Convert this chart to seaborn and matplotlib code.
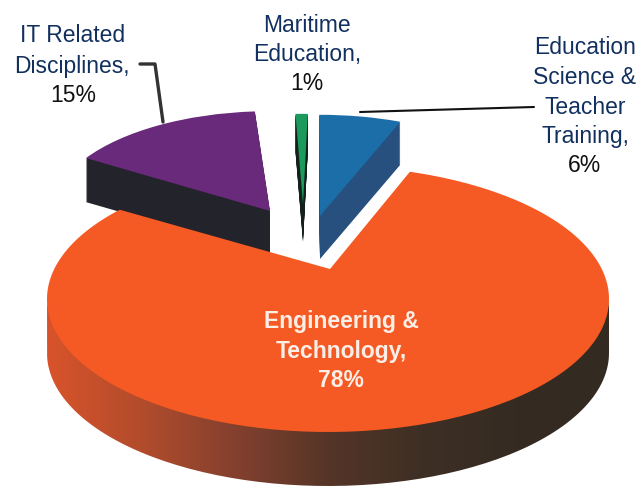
import numpy as np
import seaborn as sns
import matplotlib
matplotlib.use("Agg")
import matplotlib.pyplot as plt
from matplotlib.path import Path

# ---------------------- data ----------------------
categories = ["Engineering & Technology", "IT Related Disciplines", "Maritime Education", "Education Science & Teacher Training"]
shares = [78, 15, 1, 6]

# ---------------------- style ----------------------
sns.set_theme(style="white")
plt.rcParams['font.family'] = ['Liberation Sans', 'DejaVu Sans']

W, H = 644, 489
SQUASH = 0.46   # tilt of the fake 3d pie
NAVY = "#12305f"

def py(y):
    # picture row -> data y
    return (H - y) / SQUASH

fig = plt.figure(figsize=(W / 100, H / 100), dpi=100)
ax = fig.add_axes([0, 0, 1, 1])

def draw_slice(value, start, x, y, radius, top_col, side_col, depth, z):
    # one exploded slice: stacked copies for the side, then the top face
    for d in range(depth, 0, -1):
        ax.pie([value, 100 - value], startangle=start, center=(x, py(y + d)), radius=radius,
               colors=[side_col, "none"], wedgeprops={"linewidth": 0, "zorder": z})
    w, _ = ax.pie([value, 100 - value], startangle=start, center=(x, py(y)), radius=radius,
                  colors=[top_col, "none"], wedgeprops={"linewidth": 0, "zorder": z + 0.5})
    return w

# slices at the back
draw_slice(shares[1], 94, 270, 212, 217, "#6a2a7c", "#23232b", 44, 2)
draw_slice(shares[2], 88.6, 303, 205, 196, "#1c9a5c", "#14201c", 38, 2)
draw_slice(shares[3], 68.6, 320, 217, 220, "#1b6ea8", "#27507f", 43, 2)

# big slice: wedge from its own apex cut off by the tilted outline
cx, cy, rx, ry = 328, 300, 281, 133
depth = 54
t = np.linspace(0, 2 * np.pi, 240)
outline = Path(np.c_[cx + rx * np.cos(t), py(cy + ry * np.sin(t))], closed=False)
wedges, _ = ax.pie([shares[0], 100 - shares[0]], startangle=148.5, center=(330, py(270)), radius=900,
                   colors=["#f55a24", "none"], wedgeprops={"linewidth": 0, "zorder": 5})
wedges[0].set_clip_on(True)   # pie turns clipping off
wedges[0].set_clip_path(outline, transform=ax.transData)

# side of the big slice, shaded left to right
t = np.linspace(0, np.pi, 120)
xs = cx + rx * np.cos(t)
lower = cy + ry * np.sin(t)
verts = np.r_[np.c_[xs, py(lower - 3)], np.c_[xs[::-1], py(lower[::-1] + depth)], [[xs[0], py(lower[0] - 3)]]]
side_cmap = sns.blend_palette(["#d8532a", "#b24c2c", "#84402e", "#553527", "#3e2f25", "#352b22", "#332a22"], as_cmap=True)
img = ax.imshow(np.linspace(0, 1, 256).reshape(1, -1), cmap=side_cmap, aspect="auto", zorder=4,
                extent=(cx - rx, cx + rx, py(H), py(0)))
img.set_clip_path(Path(verts), transform=ax.transData)

# leader lines
ax.plot([140, 155, 163], [py(65), py(65), py(123)], color="#333333", lw=2.4, zorder=6)
ax.plot([360, 534], [py(113), py(108)], color="#111111", lw=1.5, zorder=6)

# ---------------------- labels ----------------------
def label(x, y, txt, color=NAVY, **kw):
    ax.text(x, py(y), txt, color=color, ha="center", va="center", fontsize=16.5, zorder=7, **kw)

label(307, 26, "Maritime")
label(307, 55, "Education,")
label(307, 84, "1%", color="#111111")

label(73, 36, "IT Related")
label(72, 66, "Disciplines,")
label(73, 95, "15%", color="#111111")

label(585, 48, "Education")
label(585, 77, "Science &")
label(585, 107, "Teacher")
label(585, 136, "Training,")
label(585, 166, "6%", color="#111111")

label(341, 322, "Engineering &", color="#fbeee6", fontweight="bold")
label(341, 352, "Technology,", color="#fbeee6", fontweight="bold")
label(341, 381, "78%", color="#fbeee6", fontweight="bold")

ax.set_aspect("auto")
ax.set_xlim(0, W)
ax.set_ylim(py(H), py(0))
ax.axis("off")

fig.savefig("out.png", dpi=100)
